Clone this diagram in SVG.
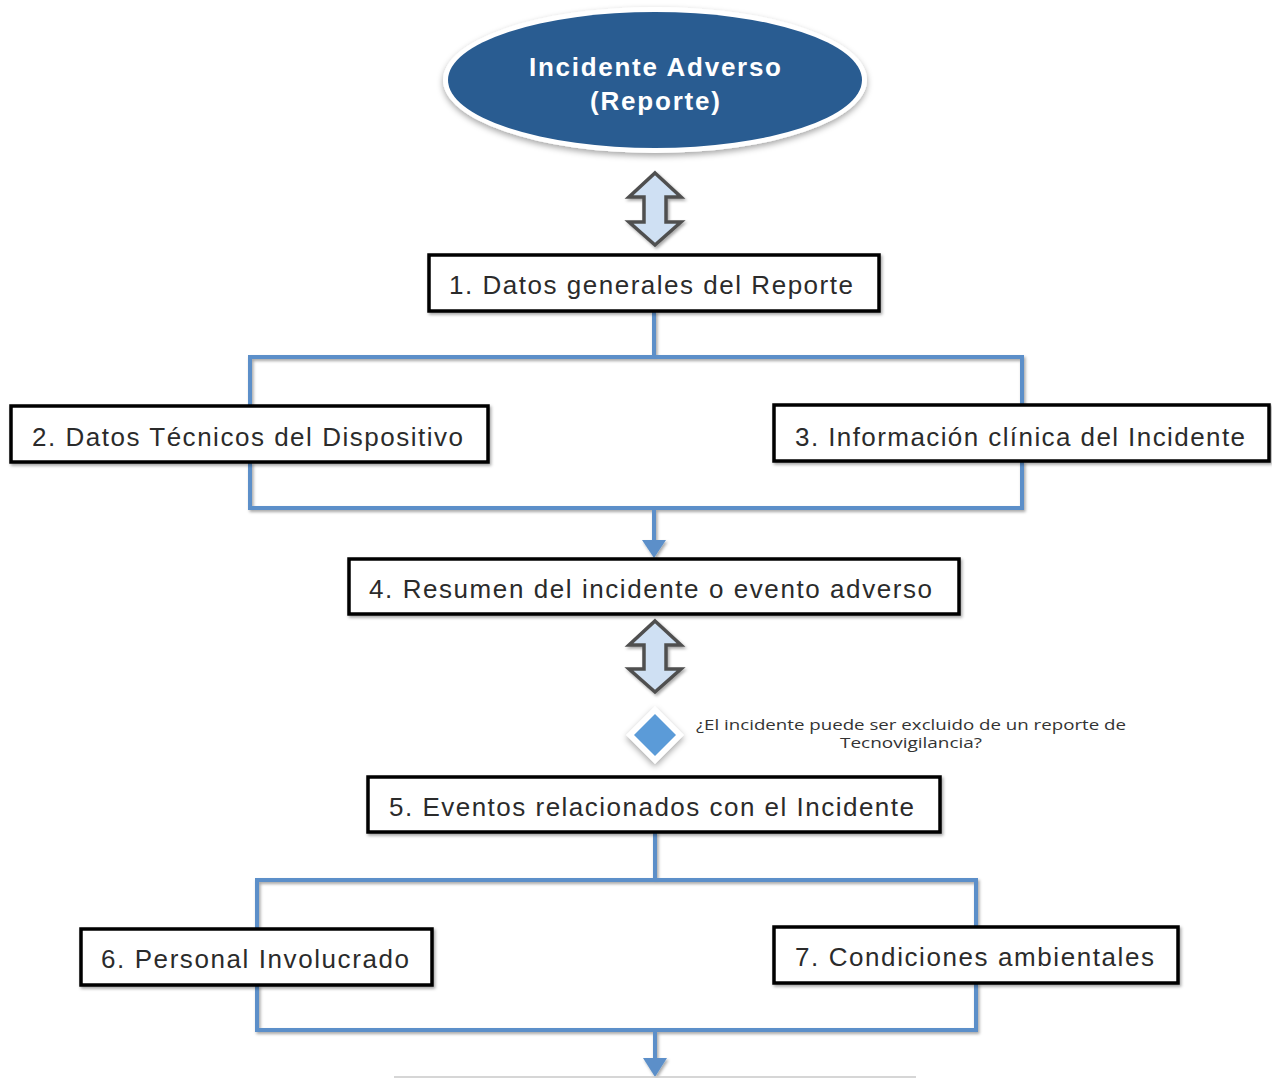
<svg xmlns="http://www.w3.org/2000/svg" width="1272" height="1078" viewBox="0 0 1272 1078">
<defs>
<style>
.box{fill:#fff;stroke:#000;stroke-width:3.5}
.lbl{font-family:"Liberation Sans",Arial,sans-serif;font-size:26px;fill:#2b2b2b;text-anchor:middle}
.conn{fill:none;stroke:#5b8fc9;stroke-width:4;stroke-linejoin:miter}
.dbl{fill:#cfe0f3;stroke:#505050;stroke-width:3.5;stroke-linejoin:miter}
.q{font-family:"Open Sans","Liberation Sans",sans-serif;font-size:15px;fill:#333}
</style>
<filter id="sh" x="-10%" y="-20%" width="120%" height="150%">
<feDropShadow dx="1.5" dy="2" stdDeviation="1.5" flood-color="#000" flood-opacity="0.35"/>
</filter>
<filter id="sh2" x="-10%" y="-20%" width="120%" height="150%">
<feDropShadow dx="0" dy="3" stdDeviation="3" flood-color="#000" flood-opacity="0.35"/>
</filter>
</defs>

<g id="connectors" filter="url(#sh)">
<path class="conn" d="M654,311 V357 M250,406 V357 H1022 V405"/>
<path class="conn" d="M250,462 V508 H1022 V461"/>
<path class="conn" d="M654,508 V545"/>
<polygon points="642,540 666,540 654,558" fill="#5b8fc9"/>
<path class="conn" d="M655,832 V880 M257,929 V880 H976 V927"/>
<path class="conn" d="M257,985 V1030 H976 V983"/>
<path class="conn" d="M655,1030 V1062"/>
<polygon points="643,1058 667,1058 655,1077" fill="#5b8fc9"/>
<polygon class="dbl" points="655,173 681,197 666,197 666,222 681,222 655,245 629,222 644,222 644,197 629,197"/>
<polygon class="dbl" points="655,621 681,645 666,645 666,669 681,669 655,692 629,669 644,669 644,645 629,645"/>
</g>

<g id="n0">
<ellipse cx="655" cy="80" rx="212" ry="73" fill="#fff" filter="url(#sh2)"/>
<ellipse cx="655" cy="80" rx="207" ry="68" fill="#295c91"/>
<text x="655" y="76" font-family="Liberation Sans,Arial,sans-serif" font-size="26" font-weight="bold" fill="#fff" text-anchor="middle" textLength="252" lengthAdjust="spacing">Incidente Adverso</text>
<text x="655" y="110" font-family="Liberation Sans,Arial,sans-serif" font-size="26" font-weight="bold" fill="#fff" text-anchor="middle" textLength="130" lengthAdjust="spacing">(Reporte)</text>
</g>

<g id="n1"><rect class="box" x="429" y="255" width="450" height="56" filter="url(#sh)"/><text class="lbl" x="651" y="294" textLength="404" lengthAdjust="spacing">1. Datos generales del Reporte</text></g>
<g id="n2"><rect class="box" x="11" y="406" width="477" height="56" filter="url(#sh)"/><text class="lbl" x="247.5" y="446" textLength="431" lengthAdjust="spacing">2. Datos Técnicos del Dispositivo</text></g>
<g id="n3"><rect class="box" x="774" y="405" width="495" height="56" filter="url(#sh)"/><text class="lbl" x="1020" y="446" textLength="450" lengthAdjust="spacing">3. Información clínica del Incidente</text></g>
<g id="n4"><rect class="box" x="349" y="559" width="610" height="55" filter="url(#sh)"/><text class="lbl" x="650.5" y="598" textLength="563" lengthAdjust="spacing">4. Resumen del incidente o evento adverso</text></g>

<g id="n_dec">
<polygon points="655,706 684,735 655,764 626,735" fill="#fff" filter="url(#sh2)"/>
<polygon points="655,714 676,735 655,756 634,735" fill="#5b9bd8"/>
<text class="q" x="911" y="730" text-anchor="middle" textLength="430" lengthAdjust="spacingAndGlyphs">¿El incidente puede ser excluido de un reporte de</text>
<text class="q" x="911" y="748" text-anchor="middle" textLength="142" lengthAdjust="spacingAndGlyphs">Tecnovigilancia?</text>
</g>

<g id="n5"><rect class="box" x="368" y="777" width="572" height="55" filter="url(#sh)"/><text class="lbl" x="651.5" y="816" textLength="525" lengthAdjust="spacing">5. Eventos relacionados con el Incidente</text></g>
<g id="n6"><rect class="box" x="81" y="929" width="351" height="56" filter="url(#sh)"/><text class="lbl" x="255" y="968" textLength="308" lengthAdjust="spacing">6. Personal Involucrado</text></g>
<g id="n7"><rect class="box" x="774" y="927" width="404" height="56" filter="url(#sh)"/><text class="lbl" x="974.5" y="966" textLength="359" lengthAdjust="spacing">7. Condiciones ambientales</text></g>
<g id="n8"><line x1="394" y1="1077" x2="916" y2="1077" stroke="#c8c8c8" stroke-width="1.5"/></g>
</svg>
